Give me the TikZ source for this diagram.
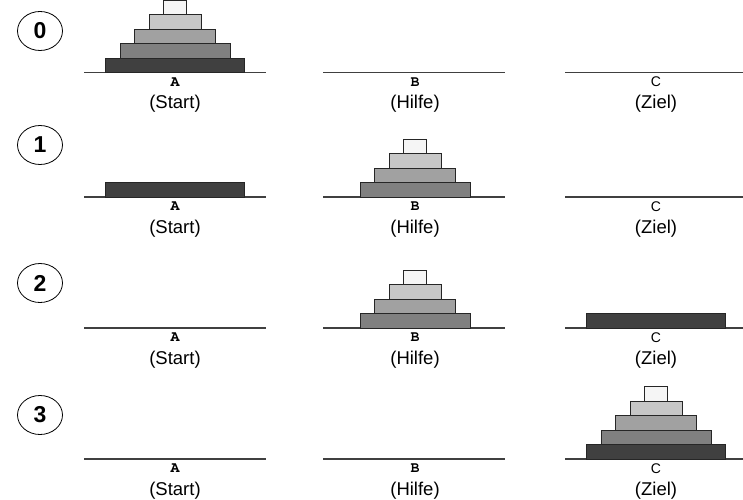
\documentclass[tikz,border=0pt]{standalone}
\usepackage[T1]{fontenc}
\usepackage{fontspec}
\setmainfont{Liberation Sans}
\newcommand{\courb}{\usefont{T1}{pcr}{b}{n}}

\definecolor{dA}{gray}{0.96}
\definecolor{dB}{gray}{0.78}
\definecolor{dC}{gray}{0.63}
\definecolor{dD}{gray}{0.50}
\definecolor{dE}{gray}{0.25}

% disc: x centre, baseline, size (1..5), level (0 = bottom)
\newcommand{\disc}[4]{%
  \pgfmathsetmacro{\hw}{11.5+14.5*(#3-1)}
  \ifcase#3\or\def\dcol{dA}\or\def\dcol{dB}\or\def\dcol{dC}\or\def\dcol{dD}\or\def\dcol{dE}\fi
  \draw[discline, fill=\dcol] ({#1-\hw},{#2+14.5*#4}) rectangle ({#1+\hw},{#2+14.5*(#4+1)});
}

\tikzset{
  base/.style={line width=1.1pt, black!75},
  discline/.style={line width=0.8pt, black!85},
  pegname/.style={font=\courb\fontsize{15}{15}\selectfont, inner sep=0pt},
  pegsans/.style={font=\fontsize{14}{14}\selectfont, inner sep=0pt},
  role/.style={font=\fontsize{18.5}{18.5}\selectfont, inner sep=0pt},
  num/.style={ellipse, draw, line width=0.8pt, minimum width=45pt, minimum height=39pt,
    inner sep=0pt, font=\bfseries\fontsize{23}{23}\selectfont}
}
\usetikzlibrary{shapes.geometric}

\begin{document}
\begin{tikzpicture}[x=1pt,y=1pt]
\useasboundingbox (0,0) rectangle (743,499);

% row 0
\node[num] (n0) at (40,468) {0};
\draw[base] (84,426.5) -- (266,426.5);
\draw[base] (323,426.5) -- (505,426.5);
\draw[base] (565,426.5) -- (745,426.5);
\disc{175}{426.5}{5}{0}
\disc{175}{426.5}{4}{1}
\disc{175}{426.5}{3}{2}
\disc{175}{426.5}{2}{3}
\disc{175}{426.5}{1}{4}
\node[pegname] (a0) at (175,417) {A};
\node[role] (s0) at (175,395) {(Start)};
\node[pegname] (b0) at (415,417) {B};
\node[role] (h0) at (415,395) {(Hilfe)};
\node[pegsans] (c0) at (656,417) {C};
\node[role] (z0) at (656,395) {(Ziel)};

% row 1
\node[num] (n1) at (40,354) {1};
\draw[base] (84,302) -- (266,302);
\draw[base] (323,302) -- (505,302);
\draw[base] (565,302) -- (745,302);
\disc{175}{302}{5}{0}
\disc{415}{302}{4}{0}
\disc{415}{302}{3}{1}
\disc{415}{302}{2}{2}
\disc{415}{302}{1}{3}
\node[pegname] (a1) at (175,292.5) {A};
\node[role] (s1) at (175,270.5) {(Start)};
\node[pegname] (b1) at (415,292.5) {B};
\node[role] (h1) at (415,270.5) {(Hilfe)};
\node[pegsans] (c1) at (656,292.5) {C};
\node[role] (z1) at (656,270.5) {(Ziel)};

% row 2
\node[num] (n2) at (40,216) {2};
\draw[base] (84,171) -- (266,171);
\draw[base] (323,171) -- (505,171);
\draw[base] (565,171) -- (745,171);
\disc{415}{171}{4}{0}
\disc{415}{171}{3}{1}
\disc{415}{171}{2}{2}
\disc{415}{171}{1}{3}
\disc{656}{171}{5}{0}
\node[pegname] (a2) at (175,161.5) {A};
\node[role] (s2) at (175,139.5) {(Start)};
\node[pegname] (b2) at (415,161.5) {B};
\node[role] (h2) at (415,139.5) {(Hilfe)};
\node[pegsans] (c2) at (656,161.5) {C};
\node[role] (z2) at (656,139.5) {(Ziel)};

% row 3
\node[num] (n3) at (40,84) {3};
\draw[base] (84,40) -- (266,40);
\draw[base] (323,40) -- (505,40);
\draw[base] (565,40) -- (745,40);
\disc{656}{40}{5}{0}
\disc{656}{40}{4}{1}
\disc{656}{40}{3}{2}
\disc{656}{40}{2}{3}
\disc{656}{40}{1}{4}
\node[pegname] (a3) at (175,30.5) {A};
\node[role] (s3) at (175,8.5) {(Start)};
\node[pegname] (b3) at (415,30.5) {B};
\node[role] (h3) at (415,8.5) {(Hilfe)};
\node[pegsans] (c3) at (656,30.5) {C};
\node[role] (z3) at (656,8.5) {(Ziel)};
\end{tikzpicture}
\end{document}
